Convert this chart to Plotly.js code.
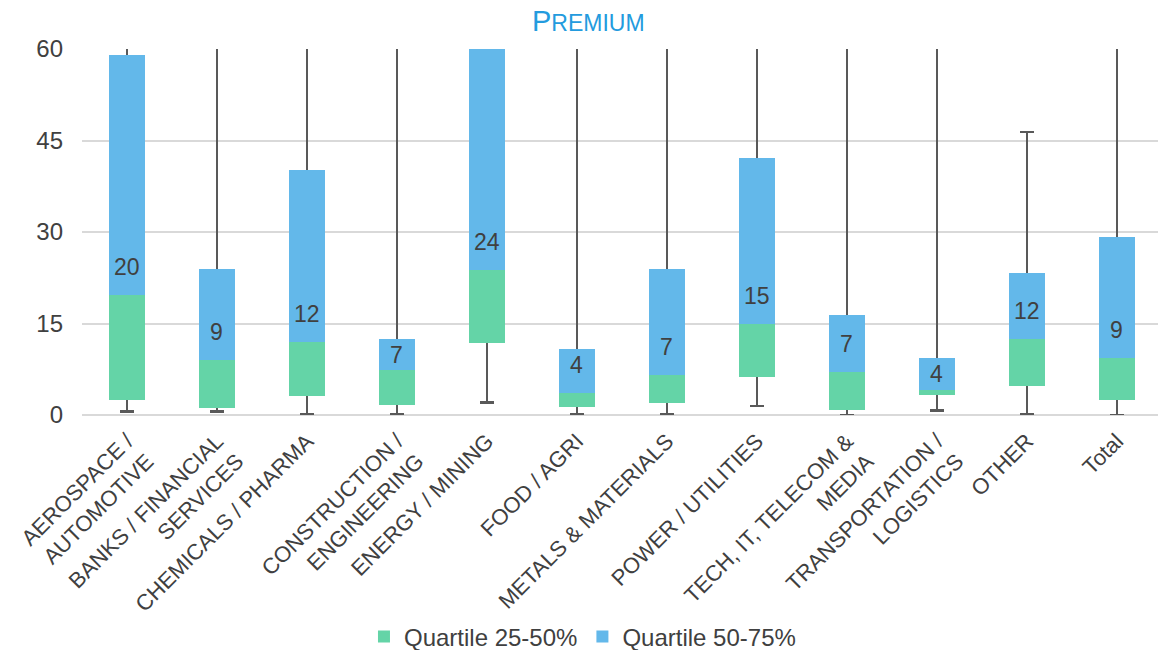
<!DOCTYPE html>
<html>
<head>
<meta charset="utf-8">
<script src="https://cdn.plot.ly/plotly-3.0.1.min.js"></script>
<style>html,body{margin:0;padding:0;background:#fff;overflow:hidden}</style>
</head>
<body>
<div id="chart" style="width:1158px;height:650px"></div>
<script>
var categories = [
  "AEROSPACE /<br>AUTOMOTIVE",
  "BANKS / FINANCIAL<br>SERVICES",
  "CHEMICALS / PHARMA",
  "CONSTRUCTION /<br>ENGINEERING",
  "ENERGY / MINING",
  "FOOD / AGRI",
  "METALS & MATERIALS",
  "POWER / UTILITIES",
  "TECH, IT, TELECOM &<br>MEDIA",
  "TRANSPORTATION /<br>LOGISTICS",
  "OTHER",
  "Total"
];
var minValues    = [0.56, 0.56, 0.16, 0.2, 2.03, 0.16, 0.16, 1.48, 0.0, 0.72, 0.05, 0.0];
var q1Values     = [2.46, 1.15, 3.12, 1.59, 11.8, 1.31, 1.97, 6.19, 0.82, 3.28, 4.76, 2.46];
var medianValues = [19.6, 8.97, 11.98, 7.38, 23.8, 3.56, 6.51, 14.93, 7.06, 4.05, 12.42, 9.3];
var q3Values     = [59.0, 23.9, 40.15, 12.42, 62.0, 10.78, 23.9, 42.07, 16.36, 9.3, 23.25, 29.16];
var maxValues    = [80, 80, 80, 80, 80, 80, 80, 80, 80, 80, 46.43, 80];

var seriesNames = ["Quartile 25-50%", "Quartile 50-75%"];

var FONT = '"Liberation Sans", Arial, sans-serif';
var TEXT = '#404040';
var GREEN = '#64D4A7';
var BLUE = '#63B8EA';

var lower = q1Values.map(function(v, i){ return v - minValues[i]; });
var upper = q1Values.map(function(v, i){ return maxValues[i] - v; });
var greenH = medianValues.map(function(v, i){ return v - q1Values[i]; });
var blueH = q3Values.map(function(v, i){ return v - medianValues[i]; });

var traces = [
  {
    type: 'bar', x: categories, y: q1Values, name: 'base',
    marker: {color: 'rgba(0,0,0,0)'}, showlegend: false, hoverinfo: 'skip',
    error_y: {type: 'data', symmetric: false, array: upper, arrayminus: lower,
              color: '#595959', thickness: 2.5, width: 7}
  },
  {
    type: 'bar', x: categories, y: greenH, name: seriesNames[0],
    marker: {color: GREEN}
  },
  {
    type: 'bar', x: categories, y: blueH, name: seriesNames[1],
    marker: {color: BLUE}
  }
];

var yMax = 60;
var plotH = 650 - 49 - 235;
var pxPerUnit = plotH / yMax;
var annotations = medianValues.map(function(m, i){
  var gapPx = (Math.min(q3Values[i], yMax) - m) * pxPerUnit;
  var shift = Math.min(28, gapPx - 16);
  return {
    x: categories[i], y: m, xref: 'x', yref: 'y',
    text: String(Math.round(m)), showarrow: false,
    yshift: shift, yanchor: 'middle',
    font: {family: FONT, size: 23, color: TEXT}
  };
});

var layout = {
  width: 1158, height: 650,
  margin: {l: 82, r: 0, t: 49, b: 235},
  paper_bgcolor: '#fff', plot_bgcolor: '#fff',
  barmode: 'stack', bargap: 0.59,
  font: {family: FONT, size: 22, color: TEXT},
  title: {
    text: 'P<span style="font-size:23px">REMIUM</span>',
    font: {family: FONT, size: 29, color: '#239BDE'},
    x: 0.508, xref: 'container', xanchor: 'center',
    y: 0.968, yref: 'container', yanchor: 'middle'
  },
  xaxis: {
    type: 'category', range: [-0.5, 11.456],
    tickangle: -45, showgrid: false, showline: false, ticks: '',
    tickfont: {family: FONT, size: 22, color: TEXT},
    ticklabelstandoff: 8,
    fixedrange: true
  },
  yaxis: {
    range: [0, yMax], tickvals: [0, 15, 30, 45, 60],
    showgrid: true, gridcolor: '#D9D9D9', gridwidth: 2,
    zeroline: true, zerolinecolor: '#D9D9D9', zerolinewidth: 2,
    showline: false, ticks: '', ticklabelstandoff: 18,
    tickfont: {family: FONT, size: 24, color: TEXT},
    fixedrange: true
  },
  legend: {
    orientation: 'h', xref: 'container', yref: 'container',
    x: 0.503, xanchor: 'center', y: 0.02, yanchor: 'middle',
    font: {family: FONT, size: 24, color: TEXT},
    traceorder: 'normal'
  },
  annotations: annotations,
  showlegend: true
};

Plotly.newPlot('chart', traces, layout, {displayModeBar: false, staticPlot: true});
</script>
</body>
</html>
